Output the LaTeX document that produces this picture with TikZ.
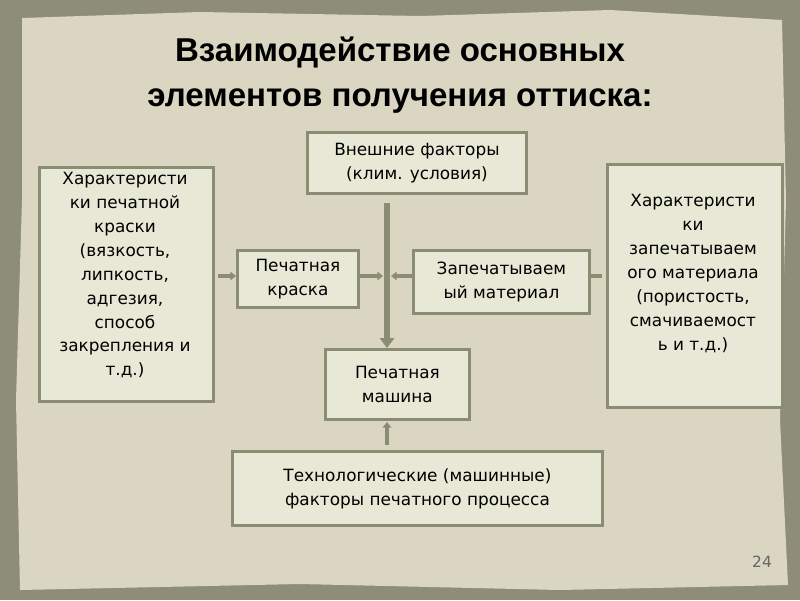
\documentclass[tikz,border=0pt]{standalone}
\usepackage{fontspec}
\setmainfont{DejaVu Sans}
\newfontfamily\titlefont{Liberation Sans}
\usetikzlibrary{arrows.meta}
\definecolor{frameol}{HTML}{8E8D7A}
\definecolor{paper}{HTML}{DAD6C1}
\definecolor{boxfill}{HTML}{E7E8D6}
\definecolor{boxline}{HTML}{8A8C74}
\tikzset{
  blk/.style={draw=boxline, line width=2pt, fill=boxfill, align=center, font=\fontsize{12}{17}\selectfont, inner sep=0pt, anchor=north west},
  txt/.style={align=center, font=\fontsize{12}{17}\selectfont, anchor=north, inner sep=0pt},
  link/.style={draw=boxline, line width=2.2pt, -{Triangle[length=4pt,width=6pt]}},
  biglink/.style={draw=boxline, line width=4pt, -{Triangle[length=7pt,width=10pt]}}
}
\begin{document}
\begin{tikzpicture}[x=0.025cm,y=-0.025cm]
  \useasboundingbox (0,0) rectangle (800,600);
  \fill[frameol] (0,0) rectangle (800,600);
  % torn paper sheet
  \fill[paper] (22,18) -- (200,12) -- (420,16) -- (610,10) -- (782,20) -- (786,200) -- (780,420) -- (788,585)
    -- (560,590) -- (300,584) -- (20,590) -- (16,400) -- (22,200) -- cycle;

  % title
  \node[font=\titlefont\bfseries\fontsize{23.5}{32}\selectfont, align=center] (title) at (400,75)
    {Взаимодействие основных\\элементов получения оттиска:};

  % boxes
  \node[blk, minimum width=174*0.025cm, minimum height=234*0.025cm] (ink) at (38,166) {};
  \node[txt] at (125,172)
    {Характеристи\\ки печатной\\краски\\(вязкость,\\липкость,\\адгезия,\\способ\\закрепления и\\т.д.)};
  \node[blk, minimum width=219*0.025cm, minimum height=61*0.025cm] (ext) at (306,131) {Внешние факторы\\(клим. условия)};
  \node[blk, minimum width=121*0.025cm, minimum height=57*0.025cm] (paint) at (236,249) {Печатная\\краска};
  \node[blk, minimum width=176*0.025cm, minimum height=63*0.025cm] (mat) at (412,249) {Запечатываем\\ый материал};
  \node[blk, minimum width=175*0.025cm, minimum height=243*0.025cm] (matprop) at (606,163) {};
  \node[txt] at (693,194)
    {Характеристи\\ки\\запечатываем\\ого материала\\(пористость,\\смачиваемост\\ь и т.д.)};
  \node[blk, minimum width=144*0.025cm, minimum height=70*0.025cm] (press) at (324,348) {Печатная\\машина};
  \node[blk, minimum width=370*0.025cm, minimum height=74*0.025cm] (tech) at (231,450)
    {Технологические (машинные)\\факторы печатного процесса};

  % connectors
  \coordinate (axis) at (387,276);
  \coordinate (axisL) at (383,276);
  \coordinate (axisR) at (391,276);
  \coordinate (inkout) at (218,276);
  \coordinate (matin) at (602,276);
  \coordinate (techout) at (387,445);
  \coordinate (pressin) at (387,422);
  \draw[biglink] ([yshift=-6]ext.south -| axis) -- (press.north -| axis);
  \draw[link] (inkout) -- (paint.west |- inkout);
  \draw[link] (paint.east |- axis) -- (axisL);
  \draw[link] (mat.west |- axis) -- (axisR);
  \draw[link, -] (matin) -- (mat.east |- matin);
  \draw[link] (techout) -- (pressin);

  \node[font=\fontsize{11}{13}\selectfont, text=black!60] (page) at (762,562) {24};
\end{tikzpicture}
\end{document}
